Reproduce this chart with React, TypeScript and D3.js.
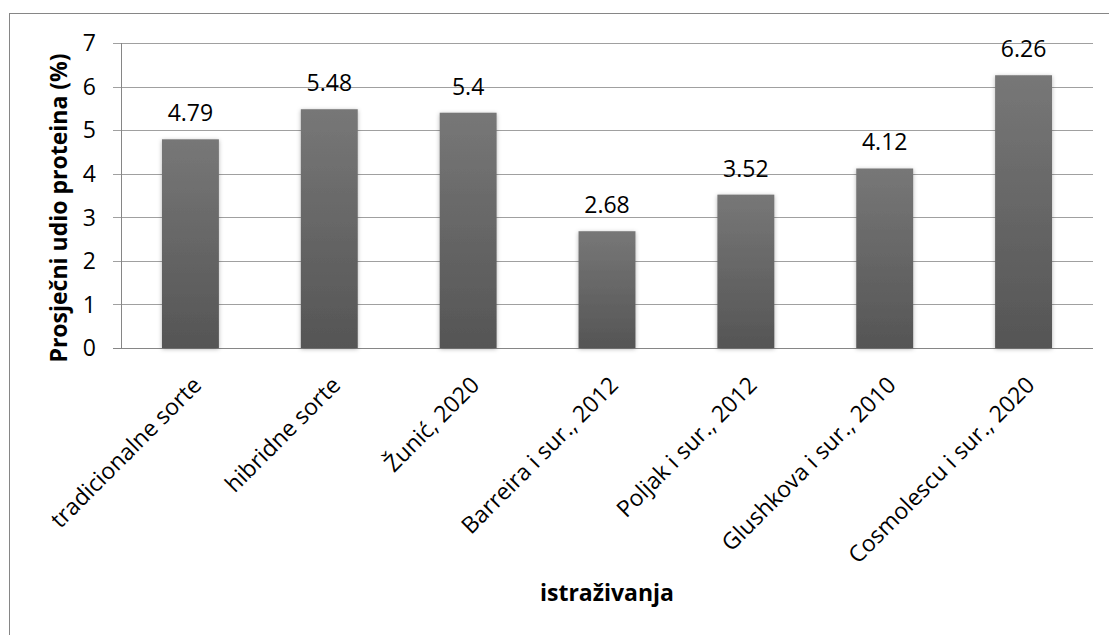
import React from "react";
import * as d3 from "d3";

const categories = [
  "tradicionalne sorte",
  "hibridne sorte",
  "Žunić, 2020",
  "Barreira i sur., 2012",
  "Poljak i sur., 2012",
  "Glushkova i sur., 2010",
  "Cosmolescu i sur., 2020",
];
const values = [4.79, 5.48, 5.4, 2.68, 3.52, 4.12, 6.26];
const valueLabels = ["4.79", "5.48", "5.4", "2.68", "3.52", "4.12", "6.26"];
const yTicks = [0, 1, 2, 3, 4, 5, 6, 7];

const W = 1109;
const H = 635;
const left = 121;
const right = 1093;
const top = 43;
const bottom = 348;
const FONT = "'Open Sans', sans-serif";
const FS = 23;

export default function App() {
  const x = d3.scaleBand<string>().domain(categories).range([left, right]).paddingInner(0.59).paddingOuter(0.295);
  const y = d3.scaleLinear().domain([0, 7]).range([bottom, top]);
  const bw = x.bandwidth();

  return (
    <svg width={W} height={H} style={{ position: "absolute", left: 0, top: 0, background: "#fff" }}>
      <defs>
        <linearGradient id="barGrad" x1="0" y1="0" x2="0" y2="1">
          <stop offset="0" stopColor="#777777" />
          <stop offset="1" stopColor="#555555" />
        </linearGradient>
        <filter id="shadow" x="-30%" y="-10%" width="160%" height="120%">
          <feDropShadow dx="0" dy="1" stdDeviation="2.2" floodColor="#000" floodOpacity="0.3" />
        </filter>
      </defs>
      <rect x={9.5} y={13.5} width={W + 10} height={H + 10} fill="#fff" stroke="#868686" strokeWidth={1} />
      {yTicks.map((t) => (
        <g key={t}>
          <line x1={left - 8} x2={right} y1={Math.round(y(t)) + 0.5} y2={Math.round(y(t)) + 0.5} stroke={t === 0 ? "#868686" : "#a0a0a0"} strokeWidth={1} />
          <text x={96} y={y(t)} dy="0.36em" textAnchor="end" fontFamily={FONT} fontSize={FS} fill="#000">
            {t}
          </text>
        </g>
      ))}
      <line x1={left + 0.5} x2={left + 0.5} y1={top} y2={bottom} stroke="#868686" strokeWidth={1} />
      {categories.map((c, i) => (
        <g key={c}>
          <rect x={x(c)!} y={y(values[i])} width={bw} height={bottom - y(values[i])} fill="url(#barGrad)" filter="url(#shadow)" />
          <text x={x(c)! + bw / 2} y={y(values[i]) - 18} textAnchor="middle" fontFamily={FONT} fontSize={FS} fill="#000">
            {valueLabels[i]}
          </text>
          <text
            transform={`translate(${x(c)! + bw / 2 + 1},${bottom + 27}) rotate(-45)`}
            textAnchor="end"
            dy="0.71em"
            fontFamily={FONT}
            fontSize={FS}
            fill="#000"
          >
            {c}
          </text>
        </g>
      ))}
      <text
        transform={`translate(67,208) rotate(-90)`}
        textAnchor="middle"
        fontFamily={FONT}
        fontWeight="bold"
        fontSize={FS}
        fill="#000"
      >
        Prosječni udio proteina (%)
      </text>
      <text x={(left + right) / 2} y={601} textAnchor="middle" fontFamily={FONT} fontWeight="bold" fontSize={FS} fill="#000">
        istraživanja
      </text>
    </svg>
  );
}
